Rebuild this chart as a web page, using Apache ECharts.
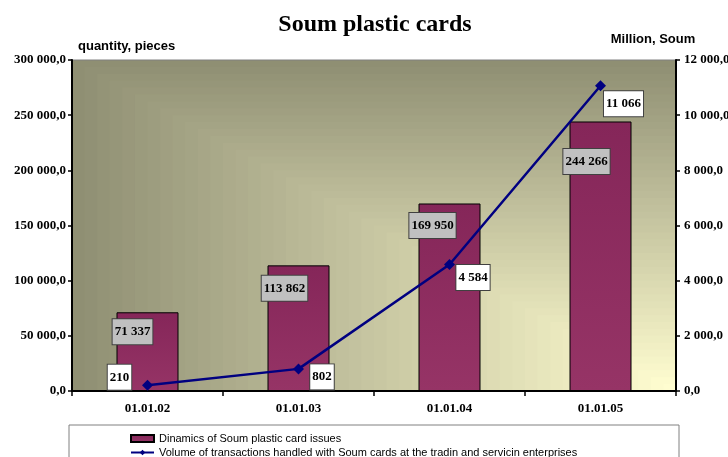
<!DOCTYPE html>
<html><head><meta charset="utf-8">
<script src="https://cdn.jsdelivr.net/npm/echarts@6/dist/echarts.min.js"></script>
<style>html,body{margin:0;padding:0;background:#fff}#c{width:728px;height:457px}</style>
</head><body><div id="c"></div>
<script>
// ---- data ----
const categories = ['01.01.02', '01.01.03', '01.01.04', '01.01.05'];
const cardIssues = [71337, 113862, 169950, 244266];
const transactionVolume = [210, 802, 4584, 11066];
const leftAxisRange = [0, 300000, 50000];
const rightAxisRange = [0, 12000, 2000];
const seriesNames = ['Dinamics of Soum plastic card issues',
  'Volume of transactions handled with Soum cards at the tradin and servicin enterprises'];

// ---- label placement (style) ----
const barLabelOffsets = [[-15, 2], [-14, 5.5], [-17, 4.5], [-14, 22.5]];
const lineLabelOffsets = [[-28, -8], [23.5, 8], [23.5, 13], [23, 18]];

const G = {left: 72, top: 60, right: 52, bottom: 66};
const W = 728 - G.left - G.right, H = 457 - G.top - G.bottom;

const fmt = v => String(Math.round(v)).replace(/\B(?=(\d{3})+(?!\d))/g, ' ');
const fmtAxis = v => fmt(v) + ',0';

// rectangular "from corner" gradient background
const dark = [143, 143, 115], light = [255, 253, 208];
const bg = [];
const N = 48;
for (let i = 0; i < N; i++) {
  const s = 1 - i / N, t = i / (N - 1);
  const c = dark.map((d, k) => Math.round(d + (light[k] - d) * t));
  bg.push({type: 'rect', z: -5, silent: true,
    shape: {x: G.left + W * (1 - s), y: G.top + H * (1 - s), width: W * s, height: H * s},
    style: {fill: 'rgb(' + c.join(',') + ')'}});
}
bg.push({type: 'rect', z: -5, silent: true, shape: {x: 69, y: 425, width: 610, height: 50},
  style: {fill: '#fff', stroke: '#808080', lineWidth: 1}});

const serif = '"Liberation Serif", "Times New Roman", serif';
const sans = '"Liberation Sans", Arial, sans-serif';

const chart = echarts.init(document.getElementById('c'));
chart.setOption({
  animation: false,
  backgroundColor: '#fff',
  title: {text: 'Soum plastic cards', left: 370, textAlign: 'center', top: 8,
    textStyle: {fontFamily: serif, fontSize: 24, fontWeight: 'bold', color: '#000'}},
  graphic: bg,
  grid: {left: G.left, top: G.top, right: G.right, bottom: G.bottom, show: true,
    outerBoundsMode: 'none', containLabel: false,
    backgroundColor: 'transparent', borderColor: '#808080', borderWidth: 1},
  legend: {orient: 'vertical', left: 125, top: 428, height: 80, itemWidth: 23, itemHeight: 7, itemGap: 3,
    textStyle: {fontFamily: sans, fontSize: 11, color: '#000'},
    data: [{name: seriesNames[0], icon: 'rect'}, {name: seriesNames[1]}]},
  xAxis: {type: 'category', data: categories,
    axisLine: {lineStyle: {color: '#000', width: 2}},
    axisTick: {show: true, length: 5, lineStyle: {color: '#000', width: 1.5}},
    axisLabel: {fontFamily: serif, fontSize: 13, fontWeight: 'bold', color: '#000', margin: 11},
    splitLine: {show: false}},
  yAxis: [
    {type: 'value', min: leftAxisRange[0], max: leftAxisRange[1], interval: leftAxisRange[2],
      name: 'quantity, pieces', nameLocation: 'end', nameGap: 14,
      nameTextStyle: {fontFamily: sans, fontSize: 13, fontWeight: 'bold', color: '#000',
        align: 'left', verticalAlign: 'middle', padding: [0, 0, 0, 6]},
      axisLine: {show: true, lineStyle: {color: '#000', width: 2}},
      axisTick: {show: true, length: 4, lineStyle: {color: '#000', width: 1.5}},
      axisLabel: {fontFamily: serif, fontSize: 13, fontWeight: 'bold', color: '#000', margin: 6,
        formatter: fmtAxis},
      splitLine: {show: false}},
    {type: 'value', min: rightAxisRange[0], max: rightAxisRange[1], interval: rightAxisRange[2],
      name: 'Million, Soum', nameLocation: 'end', nameGap: 21,
      nameTextStyle: {fontFamily: sans, fontSize: 13, fontWeight: 'bold', color: '#000',
        align: 'center', verticalAlign: 'middle', padding: [0, 46, 0, 0]},
      axisLine: {show: true, lineStyle: {color: '#000', width: 2}},
      axisTick: {show: true, length: 4, lineStyle: {color: '#000', width: 1.5}},
      axisLabel: {fontFamily: serif, fontSize: 13, fontWeight: 'bold', color: '#000', margin: 8,
        formatter: fmtAxis},
      splitLine: {show: false}}
  ],
  series: [
    {name: seriesNames[0], type: 'bar', barWidth: 62, yAxisIndex: 0,
      itemStyle: {color: new echarts.graphic.LinearGradient(0, 0, 0, 1,
        [{offset: 0, color: '#852659'}, {offset: 1, color: '#963466'}]),
        borderColor: '#000', borderWidth: 1},
      data: cardIssues.map((v, i) => ({value: v, label: {offset: barLabelOffsets[i]}})),
      label: {show: true, position: 'insideTop', distance: 5, formatter: p => fmt(p.value),
        fontFamily: serif, fontSize: 13, fontWeight: 'bold', color: '#000', lineHeight: 15,
        backgroundColor: '#c0c0c0', borderColor: '#404040', borderWidth: 1, padding: [5, 2]}},
    {name: seriesNames[1], type: 'line', yAxisIndex: 1, symbol: 'diamond', symbolSize: 11,
      lineStyle: {color: '#000080', width: 2.5}, itemStyle: {color: '#000080'},
      data: transactionVolume.map((v, i) => ({value: v, label: {offset: lineLabelOffsets[i]}})),
      label: {show: true, position: 'inside', formatter: p => fmt(p.value),
        fontFamily: serif, fontSize: 13, fontWeight: 'bold', color: '#000', lineHeight: 15,
        backgroundColor: '#fff', borderColor: '#404040', borderWidth: 1, padding: [5, 2]}}
  ]
});
</script></body></html>
